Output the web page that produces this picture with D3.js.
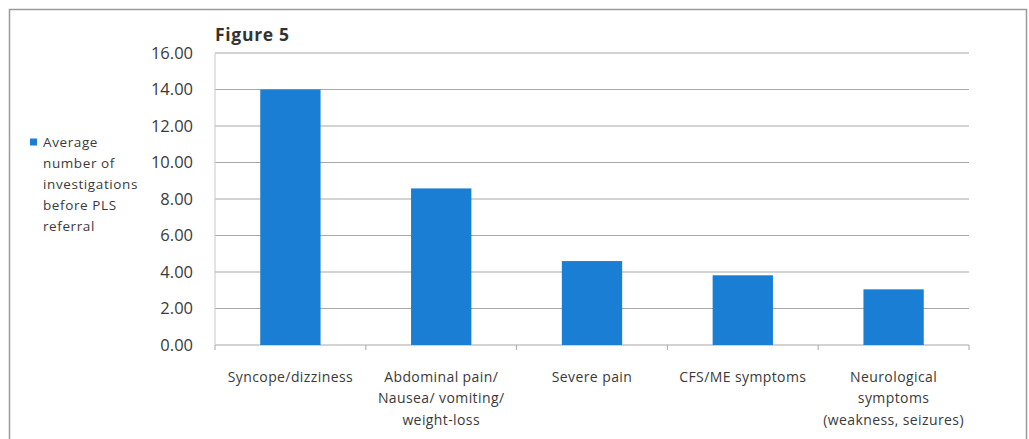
<!DOCTYPE html>
<html><head><meta charset="utf-8">
<script src="https://cdn.jsdelivr.net/npm/d3@7"></script>
<style>body{margin:0;background:#fff;}svg{display:block;}</style>
</head><body>
<svg id="c" width="1029" height="439"></svg>
<script>
const categories = [
  ["Syncope/dizziness"],
  ["Abdominal pain/", "Nausea/ vomiting/", "weight-loss"],
  ["Severe pain"],
  ["CFS/ME symptoms"],
  ["Neurological", "symptoms", "(weakness, seizures)"]
];
const values = [14.0, 8.58, 4.6, 3.82, 3.05];
const yTicks = [0, 2, 4, 6, 8, 10, 12, 14, 16];
const seriesName = ["Average", "number of", "investigations", "before PLS", "referral"];
const title = "Figure 5";

(function () {
const svg = d3.select("#c");
const font = "'Open Sans', 'DejaVu Sans', sans-serif";
const textCol = "#3a3a3a";
const barCol = "#1a7fd4";

// outer border
svg.append("rect").attr("x", 9.5).attr("y", 9.5).attr("width", 1017).attr("height", 440)
  .attr("fill", "#fff").attr("stroke", "#9a9a9a").attr("stroke-width", 1.5);

const pLeft = 215, pRight = 969, pTop = 53, pBottom = 345;
const x = d3.scaleBand().domain(d3.range(categories.length)).range([pLeft, pRight])
  .paddingInner(0.6).paddingOuter(0.3);
const y = d3.scaleLinear().domain([0, 16]).range([pBottom, pTop]);

// gridlines
svg.append("g").selectAll("line").data(yTicks).join("line")
  .attr("x1", pLeft).attr("x2", pRight)
  .attr("y1", d => y(d)).attr("y2", d => y(d))
  .attr("stroke", "#a8a8a8").attr("stroke-width", 1.2);

// y axis labels
svg.append("g").selectAll("text").data(yTicks).join("text")
  .attr("x", 193).attr("y", d => y(d)).attr("dy", "0.35em")
  .attr("text-anchor", "end").attr("font-family", font).attr("font-size", 16.5)
  .attr("fill", textCol).text(d => d3.format(".2f")(d));

// left axis line
svg.append("line").attr("x1", pLeft).attr("x2", pLeft).attr("y1", pTop).attr("y2", pBottom)
  .attr("stroke", "#c8c8c8").attr("stroke-width", 1);

// category tick marks
svg.append("g").selectAll("line").data(d3.range(categories.length + 1)).join("line")
  .attr("x1", i => pLeft + i * (pRight - pLeft) / categories.length)
  .attr("x2", i => pLeft + i * (pRight - pLeft) / categories.length)
  .attr("y1", pBottom).attr("y2", pBottom + 5)
  .attr("stroke", "#a8a8a8");

// bars
svg.append("g").selectAll("rect").data(values).join("rect")
  .attr("x", (d, i) => x(i)).attr("width", x.bandwidth())
  .attr("y", d => y(d)).attr("height", d => y(0) - y(d))
  .attr("fill", barCol);

// category labels
const cl = svg.append("g").selectAll("text").data(categories).join("text")
  .attr("x", (d, i) => x(i) + x.bandwidth() / 2)
  .attr("y", 377).attr("text-anchor", "middle")
  .attr("font-family", font).attr("font-size", 14).attr("letter-spacing", 0.4)
  .attr("fill", textCol);
cl.selectAll("tspan").data(d => d).join("tspan")
  .attr("x", function () { return this.parentNode.getAttribute("x"); })
  .attr("dy", (d, i) => i === 0 ? "0.35em" : 21.5)
  .text(d => d);

// title
svg.append("text").attr("x", 215).attr("y", 35).attr("dy", "0.35em")
  .attr("font-family", font).attr("font-size", 17.5).attr("font-weight", "bold")
  .attr("letter-spacing", 0.7).attr("fill", "#333").text(title);

// legend
svg.append("rect").attr("x", 30).attr("y", 138.5).attr("width", 7).attr("height", 7).attr("fill", barCol);
svg.append("text").attr("x", 43).attr("y", 142)
  .attr("font-family", font).attr("font-size", 13.5).attr("letter-spacing", 0.6)
  .attr("fill", textCol)
  .selectAll("tspan").data(seriesName).join("tspan")
  .attr("x", 43).attr("dy", (d, i) => i === 0 ? "0.35em" : 21)
  .text(d => d);
})();
</script>
</body></html>
